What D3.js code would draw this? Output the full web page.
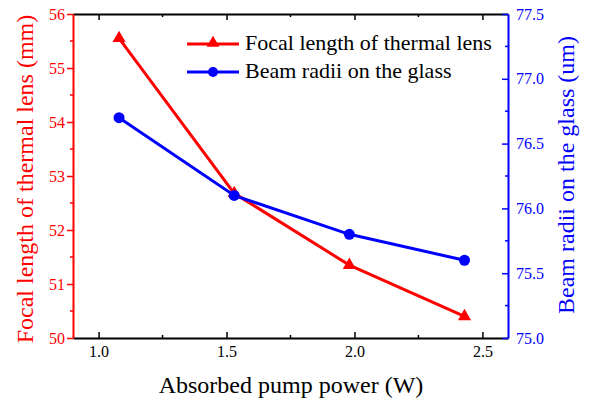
<!DOCTYPE html>
<html><head><meta charset="utf-8">
<script src="https://cdn.jsdelivr.net/npm/d3@7"></script>
<style>body{margin:0;background:#fff}svg{display:block}</style>
</head><body><svg id="c" width="589" height="402"></svg>
<script>
const power = [1.08, 1.53, 1.98, 2.43];
const focal = [55.55, 52.68, 51.35, 50.40];
const radii = [76.7, 76.1, 75.8, 75.6];
const xTicks = [1.0, 1.5, 2.0, 2.5];
const yLeftTicks = [50, 51, 52, 53, 54, 55, 56];
const yRightTicks = [75.0, 75.5, 76.0, 76.5, 77.0, 77.5];
const seriesNames = ["Focal length of thermal lens", "Beam radii on the glass"];

const RED = "#ff0000", BLUE = "#0000ff";
const FONT = "'Liberation Serif', 'Times New Roman', Times, 'DejaVu Serif', serif";
const L = 73, R = 508, T = 14, B = 338;
const svg = d3.select("#c");
const x = d3.scaleLinear().domain([0.9, 2.6]).range([L, R]);
const yl = d3.scaleLinear().domain([50, 56]).range([B, T]);
const yr = d3.scaleLinear().domain([75, 77.5]).range([B, T]);

function style(g, color, fs) {
  g.attr("font-family", null).attr("font-size", null);
  g.select(".domain").attr("stroke", color).attr("stroke-width", 2);
  g.selectAll(".tick line").attr("stroke", color).attr("stroke-width", 1.5);
  g.selectAll(".tick text").attr("fill", color).style("font-size", fs + "px");
}
const xMinor = [1.25, 1.75, 2.25];
const gb = svg.append("g").attr("transform", `translate(0,${B})`)
  .call(d3.axisBottom(x).tickValues(xTicks).tickFormat(d3.format(".1f")).tickSizeInner(-6).tickSizeOuter(0).tickPadding(8));
style(gb, "#000", 16);
gb.selectAll(".minor").data(xMinor).enter().append("line").attr("x1", d => x(d)).attr("x2", d => x(d)).attr("y1", 0).attr("y2", -3).attr("stroke", "#000").attr("stroke-width", 1.5);
const gt = svg.append("g").attr("transform", `translate(0,${T})`)
  .call(d3.axisTop(x).tickValues(xTicks).tickFormat("").tickSizeInner(-6).tickSizeOuter(0));
style(gt, "#000", 16);
gt.selectAll(".minor").data(xMinor).enter().append("line").attr("x1", d => x(d)).attr("x2", d => x(d)).attr("y1", 0).attr("y2", 3).attr("stroke", "#000").attr("stroke-width", 1.5);
const glAx = svg.append("g").attr("transform", `translate(${L},0)`)
  .call(d3.axisLeft(yl).tickValues(yLeftTicks).tickFormat(d3.format("d")).tickSizeInner(6).tickSizeOuter(0).tickPadding(2));
style(glAx, RED, 16);
glAx.selectAll(".minor").data(yLeftTicks.slice(0, -1).map(d => d + 0.5)).enter().append("line")
  .attr("y1", d => yl(d)).attr("y2", d => yl(d)).attr("x1", 0).attr("x2", -3).attr("stroke", RED).attr("stroke-width", 1.5);
const grAx = svg.append("g").attr("transform", `translate(${R},0)`)
  .call(d3.axisRight(yr).tickValues(yRightTicks).tickFormat(d3.format(".1f")).tickSizeInner(-6).tickSizeOuter(0).tickPadding(8));
style(grAx, BLUE, 16);
grAx.selectAll(".minor").data(yRightTicks.slice(0, -1).map(d => d + 0.25)).enter().append("line")
  .attr("y1", d => yr(d)).attr("y2", d => yr(d)).attr("x1", 0).attr("x2", -3).attr("stroke", BLUE).attr("stroke-width", 1.5);

const lf = d3.line().x((d, i) => x(power[i])).y(d => yl(d));
const lr = d3.line().x((d, i) => x(power[i])).y(d => yr(d));
svg.append("path").attr("d", lf(focal)).attr("fill", "none").attr("stroke", RED).attr("stroke-width", 3);
svg.append("path").attr("d", lr(radii)).attr("fill", "none").attr("stroke", BLUE).attr("stroke-width", 3);
const tri = d3.symbol().type(d3.symbolTriangle).size(75);
svg.selectAll(".tri").data(focal).enter().append("path")
  .attr("transform", (d, i) => `translate(${x(power[i])},${yl(d)})`).attr("d", tri).attr("fill", RED);
svg.selectAll(".cir").data(radii).enter().append("circle")
  .attr("cx", (d, i) => x(power[i])).attr("cy", d => yr(d)).attr("r", 5.5).attr("fill", BLUE);

const lg = svg.append("g");
[[RED, 44, "tri", 49.5], [BLUE, 72, "cir", 77.5]].forEach(([c, yy, m, ty], i) => {
  lg.append("line").attr("x1", 187).attr("x2", 239).attr("y1", yy).attr("y2", yy).attr("stroke", c).attr("stroke-width", 3);
  if (m === "tri") lg.append("path").attr("transform", `translate(213,${yy - 1})`).attr("d", d3.symbol().type(d3.symbolTriangle).size(70)).attr("fill", c);
  else lg.append("circle").attr("cx", 213).attr("cy", yy).attr("r", 5).attr("fill", c);
  lg.append("text").attr("x", 245).attr("y", ty).text(seriesNames[i]).style("font-size", "22px").attr("fill", "#000");
});

svg.append("text").attr("x", 291).attr("y", 392.5).attr("text-anchor", "middle").style("font-size", "24px").text("Absorbed pump power (W)");
svg.append("text").attr("transform", `translate(32.5,179) rotate(-90)`).attr("text-anchor", "middle").style("font-size", "24px").attr("fill", RED).text("Focal length of thermal lens (mm)");
svg.append("text").attr("transform", `translate(574,175) rotate(-90)`).attr("text-anchor", "middle").style("font-size", "24px").attr("fill", BLUE).text("Beam radii on the glass (um)");

svg.selectAll("text").style("font-family", FONT);
</script></body></html>
